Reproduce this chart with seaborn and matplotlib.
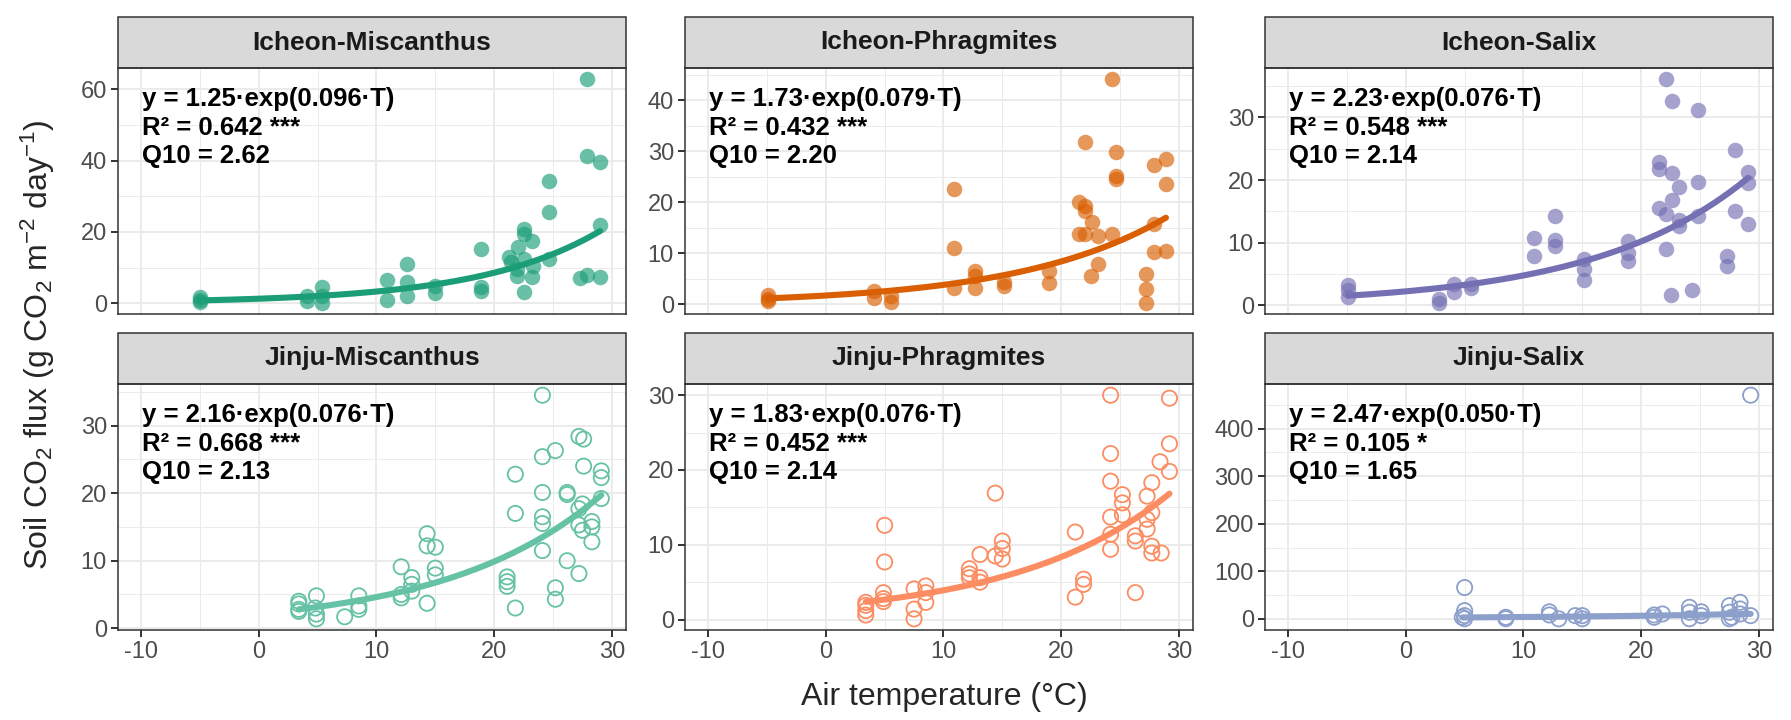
import numpy as np
import pandas as pd
import matplotlib
matplotlib.use("Agg")
import matplotlib.pyplot as plt
from matplotlib.patches import Rectangle
from matplotlib.ticker import MultipleLocator
import seaborn as sns

# ---- data ----
panels = ["Icheon-Miscanthus", "Icheon-Phragmites", "Icheon-Salix",
          "Jinju-Miscanthus", "Jinju-Phragmites", "Jinju-Salix"]

icheon_misc_T = [-5, -5, -5, 4.1, 4.1, 5.4, 5.4, 5.4, 10.9, 10.9, 12.6, 12.6, 12.6, 15.0, 15.0,
                 18.9, 18.9, 18.9, 22.5, 22.5, 23.2, 22.0, 21.3, 21.4, 22.5, 23.3, 21.9, 23.2, 22.5, 21.9,
                 24.7, 24.7, 24.7, 27.9, 27.9, 27.3, 27.9, 29.0, 29.0, 29.0]
icheon_misc_flux = [0.4, 1.0, 1.7, 2.1, 0.7, 4.5, 2.1, 0.1, 6.5, 0.8, 11.0, 5.9, 2.1, 4.9, 2.9,
                    15.2, 4.5, 3.3, 20.8, 19.4, 17.5, 15.7, 12.9, 11.5, 12.4, 10.5, 7.7, 7.3, 3.1, 9.6,
                    34.3, 25.5, 12.4, 62.8, 41.3, 7.0, 7.9, 39.5, 21.9, 7.3]

icheon_phra_T = [-4.9, -4.9, -4.9, 4.1, 4.1, 5.5, 5.5, 10.9, 10.9, 10.9, 12.7, 12.7, 12.7, 15.1, 15.1,
                 19.0, 19.0, 21.5, 22.0, 22.0, 22.0, 22.6, 21.5, 22.0, 23.1, 23.1, 22.5, 24.3, 24.3,
                 24.7, 24.7, 24.7, 27.2, 27.2, 27.2, 27.9, 27.9, 27.9, 28.9, 28.9, 28.9]
icheon_phra_flux = [1.0, 1.8, 0.6, 2.7, 1.2, 1.7, 0.5, 22.6, 11.0, 3.3, 6.6, 5.6, 3.3, 4.3, 3.5,
                    6.6, 4.2, 20.0, 31.7, 19.3, 18.3, 16.2, 13.8, 13.8, 13.4, 7.9, 5.6, 13.8, 44.1,
                    29.8, 25.2, 24.5, 5.9, 3.0, 0.3, 27.3, 15.7, 10.3, 28.4, 23.6, 10.5]

icheon_sali_T = [-4.9, -4.9, -4.9, 2.8, 2.8, 4.1, 4.1, 5.5, 5.5, 10.9, 10.9, 12.7, 12.7, 12.7,
                 15.1, 15.1, 15.1, 18.9, 18.9, 18.9, 21.5, 21.5, 22.1, 22.6, 22.6, 23.2, 22.6, 21.5,
                 22.1, 23.2, 23.2, 22.1, 22.5, 24.3, 24.8, 24.8, 24.8, 27.3, 27.3, 28.0, 28.0,
                 29.1, 29.1, 29.1]
icheon_sali_flux = [3.3, 2.4, 1.3, 1.0, 0.4, 3.4, 2.1, 3.4, 2.8, 10.7, 7.9, 14.3, 10.4, 9.5,
                    7.4, 5.8, 4.1, 10.3, 8.4, 7.1, 22.8, 21.8, 36.1, 32.6, 21.1, 18.9, 16.8, 15.6,
                    14.6, 13.7, 12.6, 9.0, 1.7, 2.4, 31.2, 19.7, 14.2, 7.9, 6.3, 24.8, 15.0,
                    21.3, 19.5, 13.0]

jinju_misc_T = [3.4, 3.4, 3.4, 3.4, 4.9, 4.9, 4.9, 4.8, 7.3, 8.5, 8.5, 8.5, 12.1, 12.1, 12.1,
                13.0, 13.0, 13.0, 14.3, 14.3, 15.0, 15.0, 15.0, 14.3, 21.1, 21.1, 21.1, 21.8, 21.8, 21.8,
                24.1, 24.1, 25.2, 24.1, 24.1, 24.1, 24.1, 25.2, 25.2, 26.2, 26.2, 26.2,
                27.2, 27.6, 27.6, 27.2, 27.5, 27.2, 27.5, 28.3, 28.3, 28.3, 27.2, 29.1, 29.1, 29.1]
jinju_misc_flux = [4.0, 3.6, 2.8, 2.5, 4.8, 2.1, 1.4, 3.0, 1.7, 4.8, 3.3, 2.8, 9.1, 5.0, 4.5,
                   7.5, 6.5, 5.5, 14.0, 12.2, 12.0, 8.9, 7.9, 3.7, 7.6, 6.9, 6.2, 22.8, 17.0, 3.0,
                   34.5, 25.4, 26.3, 20.1, 16.5, 15.5, 11.5, 6.0, 4.3, 20.1, 19.8, 10.0,
                   28.4, 28.0, 24.0, 17.7, 18.4, 15.3, 14.5, 15.8, 15.0, 12.8, 8.1, 23.3, 22.3, 19.2]

jinju_phra_T = [3.4, 3.4, 3.4, 3.4, 4.9, 4.9, 4.9, 5.0, 5.0, 7.5, 7.5, 7.5, 8.5, 8.5, 8.5,
                12.2, 12.2, 12.2, 13.1, 13.1, 13.1, 14.4, 14.4, 15.0, 15.0, 15.0,
                21.2, 21.2, 21.9, 21.9, 24.2, 24.2, 24.2, 24.2, 24.2, 24.2, 25.2, 25.2, 25.2,
                26.3, 26.3, 26.3, 27.3, 27.3, 27.3, 27.7, 27.7, 27.7, 27.7, 28.5, 28.4,
                29.2, 29.2, 29.2]
jinju_phra_flux = [2.3, 1.9, 1.2, 0.6, 3.6, 2.8, 2.4, 12.6, 7.7, 4.1, 1.4, 0.1, 4.5, 3.6, 2.3,
                   6.8, 6.1, 5.6, 8.7, 5.6, 5.0, 16.9, 8.5, 10.5, 9.5, 8.1,
                   11.7, 3.0, 5.4, 4.7, 30.0, 22.2, 18.5, 13.7, 11.4, 9.4, 16.7, 15.6, 14.0,
                   11.2, 10.5, 3.6, 16.5, 13.4, 12.1, 18.3, 14.3, 9.8, 8.9, 8.9, 21.1,
                   29.6, 23.5, 19.8]

jinju_sali_T = [5.0, 5.0, 5.0, 4.8, 5.0, 8.5, 8.5, 12.2, 12.2, 13.0, 14.4, 15.0, 15.0,
                21.1, 21.1, 21.8, 24.1, 24.1, 24.1, 25.1, 25.1, 27.5, 27.5, 27.5, 27.7,
                28.4, 28.4, 28.4, 29.3, 29.3]
jinju_sali_flux = [66, 17.5, 7, 3.5, 0.5, 3.5, 0.5, 15, 8.4, 0.3, 7, 7, 0.5,
                   8.4, 3.5, 10.5, 24.5, 14, 0.5, 15, 7, 28, 14, 0.5, 3.5,
                   35, 21, 10.5, 470, 7]

fit_a = [1.25, 1.73, 2.23, 2.16, 1.83, 2.47]
fit_b = [0.096, 0.079, 0.076, 0.076, 0.076, 0.050]
r2_labels = ["0.642 ***", "0.432 ***", "0.548 ***", "0.668 ***", "0.452 ***", "0.105 *"]
q10_labels = ["2.62", "2.20", "2.14", "2.13", "2.14", "1.65"]
y_steps = [20, 10, 10, 10, 10, 100]
colors = ["#1B9E77", "#D95F02", "#7570B3", "#66C2A5", "#FC8D62", "#8DA0CB"]

temps = [icheon_misc_T, icheon_phra_T, icheon_sali_T, jinju_misc_T, jinju_phra_T, jinju_sali_T]
fluxes = [icheon_misc_flux, icheon_phra_flux, icheon_sali_flux,
          jinju_misc_flux, jinju_phra_flux, jinju_sali_flux]

df = pd.concat([pd.DataFrame({"panel": p, "T": t, "flux": f})
                for p, t, f in zip(panels, temps, fluxes)], ignore_index=True)

# ---- style ----
sns.set_theme(style="white")
plt.rcParams["font.family"] = ["Liberation Sans", "DejaVu Sans"]
plt.rcParams["axes.unicode_minus"] = False
plt.rcParams["mathtext.fontset"] = "custom"
plt.rcParams["mathtext.rm"] = "Liberation Sans"
plt.rcParams["mathtext.it"] = "Liberation Sans:italic"
plt.rcParams["mathtext.bf"] = "Liberation Sans:bold"

W, H = 1791, 720
fig = plt.figure(figsize=(W / 100, H / 100), dpi=100)

lefts = [118, 685, 1265]
tops = [68, 384]
pw, ph, sh = 508, 246, 51
border = "#333333"

for i, name in enumerate(panels):
    r, c = divmod(i, 3)
    ax = fig.add_axes([lefts[c] / W, 1 - (tops[r] + ph) / H, pw / W, ph / H])
    sub = df[df["panel"] == name]
    col = colors[i]
    ax.set_axisbelow(True)

    if r == 0:
        sns.scatterplot(data=sub, x="T", y="flux", ax=ax, color=col, alpha=0.65,
                        s=125, linewidth=0, zorder=3)
    else:
        sns.scatterplot(data=sub, x="T", y="flux", ax=ax, color=col, facecolor="none",
                        edgecolor=col, s=120, linewidth=1.3, zorder=3)

    tgrid = np.linspace(sub["T"].min(), sub["T"].max(), 200)
    fit = pd.DataFrame({"T": tgrid, "flux": fit_a[i] * np.exp(fit_b[i] * tgrid)})
    sns.lineplot(data=fit, x="T", y="flux", ax=ax, color=col, lw=4.4, zorder=4)

    lo, hi = sub["flux"].min(), sub["flux"].max()
    pad = 0.05 * (hi - lo)
    ax.set_ylim(lo - pad, hi + pad)
    ax.set_xlim(-11.96, 31.2)
    ax.xaxis.set_major_locator(MultipleLocator(10))
    ax.xaxis.set_minor_locator(MultipleLocator(5))
    ax.yaxis.set_major_locator(MultipleLocator(y_steps[i]))
    ax.yaxis.set_minor_locator(MultipleLocator(y_steps[i] / 2))
    ax.grid(which="major", color="#EBEBEB", lw=1.4)
    ax.grid(which="minor", color="#EBEBEB", lw=0.7)
    ax.tick_params(which="major", length=5, width=1.4, color=border,
                   labelsize=17, labelcolor="#4D4D4D", pad=3)
    ax.tick_params(which="minor", length=0)
    ax.tick_params(axis="x", bottom=(r == 1), labelbottom=(r == 1))
    ax.tick_params(axis="y", left=True)
    ax.set_xlabel("")
    ax.set_ylabel("")
    for s in ax.spines.values():
        s.set_color(border)
        s.set_linewidth(1.1)

    # ggplot-like strip
    ax.add_patch(Rectangle((0, 1), 1, sh / ph, transform=ax.transAxes, clip_on=False,
                           facecolor="#D9D9D9", edgecolor=border, lw=1.1))
    ax.text(0.5, 1 + sh / ph / 2, name, transform=ax.transAxes, ha="center", va="center",
            fontsize=19, fontweight="bold", color="#1A1A1A")

    label = (f"y = {fit_a[i]:.2f}\u00b7exp({fit_b[i]:.3f}\u00b7T)\n"
             f"R\u00b2 = {r2_labels[i]}\nQ10 = {q10_labels[i]}")
    ax.text(0.048, 1 - 19 / ph, label, transform=ax.transAxes, ha="left", va="top",
            fontsize=18.5, fontweight="bold", color="black", linespacing=1.25, zorder=5)

fig.text(944 / W, 1 - 697 / H, "Air temperature (\u00b0C)", ha="center", va="center",
         fontsize=23)
fig.text(38 / W, 1 - 345 / H,
         r"Soil CO$_2$ flux (g CO$_2$ m$^{-2}$ day$^{-1}$)",
         ha="center", va="center", rotation=90, fontsize=23)

fig.savefig("out.png", dpi=100)
